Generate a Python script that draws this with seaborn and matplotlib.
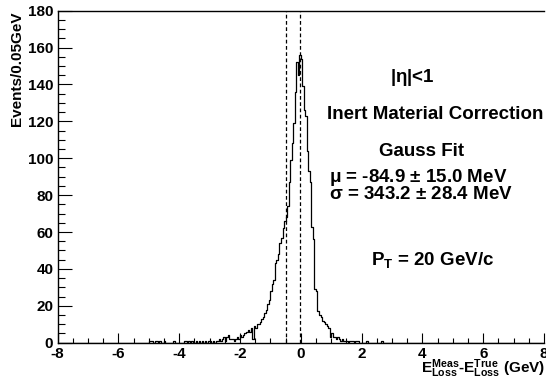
import numpy as np
import pandas as pd
import matplotlib
matplotlib.use("Agg")
import matplotlib.pyplot as plt
import seaborn as sns
from matplotlib.ticker import MultipleLocator

# ---------------- data ----------------
bin_width = 0.05
x_min, x_max = -8.0, 8.0

# dense part of the histogram: consecutive bins starting at core_start
core_start = -3.00
core_counts = [
    1, 0, 1, 0, 1, 1, 2, 1, 2, 3,          # -3.00 .. -2.55
    1, 3, 4, 2, 2, 2, 1, 2, 3, 2,          # -2.50 .. -2.05
    4, 3, 4, 5, 6, 7, 6, 8, 2, 9,          # -2.00 .. -1.55
    8, 10, 10, 11, 13, 14, 16, 18, 21, 23,  # -1.50 .. -1.05
    28, 32, 34, 43, 45, 48, 54, 57, 62, 66,  # -1.00 .. -0.55
    68, 74, 87, 99, 108, 119, 136, 152, 145, 156,  # -0.50 .. -0.05
    154, 139, 126, 123, 104, 93, 87, 63, 56, 29,   # 0.00 .. 0.45
    28, 17, 15, 14, 12, 11, 10, 9, 8, 3,    # 0.50 .. 0.95
    5, 3, 3, 2, 3, 2, 1, 2, 1, 1,           # 1.00 .. 1.45
    1, 0, 1, 1, 1, 0, 1, 1,                 # 1.50 .. 1.85
]

# isolated tail bins (bin lower edge, count)
tail_starts = [-5.00, -4.95, -4.90, -4.80, -4.75, -4.65, -4.50, -4.20,
               -3.85, -3.80, -3.70, -3.60, -3.45, -3.35, -3.25, -3.15,
               -3.05, 2.15, 2.65]
tail_counts = [1, 1, 1, 1, 1, 1, 1, 1,
               1, 1, 1, 1, 1, 1, 1, 1,
               1, 1, 1]

dashed_positions = [-0.49, -0.035]

x_ticks_major = [-8, -6, -4, -2, 0, 2, 4, 6, 8]
y_ticks_major = [0, 20, 40, 60, 80, 100, 120, 140, 160, 180]

# ---------------- build table ----------------
n_bins = int(round((x_max - x_min) / bin_width))
edges = np.linspace(x_min, x_max, n_bins + 1)
counts = np.zeros(n_bins)
i0 = int(round((core_start - x_min) / bin_width))
counts[i0:i0 + len(core_counts)] = core_counts
for s, c in zip(tail_starts, tail_counts):
    counts[int(round((s - x_min) / bin_width))] = c
centers = edges[:-1] + bin_width / 2
df = pd.DataFrame({"x": centers, "n": counts})

# ---------------- style ----------------
sns.set_theme(style="ticks")
plt.rcParams["font.family"] = ["Liberation Sans", "DejaVu Sans"]
plt.rcParams["font.weight"] = "bold"
plt.rcParams["text.color"] = "black"
plt.rcParams["axes.labelcolor"] = "black"
plt.rcParams["xtick.color"] = "black"
plt.rcParams["ytick.color"] = "black"
plt.rcParams["axes.unicode_minus"] = False
plt.rcParams["mathtext.fontset"] = "custom"
plt.rcParams["mathtext.rm"] = "Liberation Sans"
plt.rcParams["mathtext.bf"] = "Liberation Sans:bold"
plt.rcParams["mathtext.it"] = "Liberation Sans:italic"
plt.rcParams["mathtext.sf"] = "Liberation Sans"

W, H = 546, 380
fig = plt.figure(figsize=(W / 100, H / 100), dpi=100)
fig.patch.set_facecolor("white")
ax = fig.add_axes([57.5 / W, 1 - 342.7 / H, (544 - 57.5) / W, (342.7 - 10.7) / H])
ax.set_facecolor("white")

sns.histplot(data=df, x="x", weights="n", binwidth=bin_width,
             binrange=(x_min, x_max), element="step",
             fill=False, color="black", linewidth=0.9, ax=ax)

for xp in dashed_positions:
    ax.axvline(xp, color="black", linestyle=(0, (3, 2)), linewidth=0.9)

ax.set_xlim(x_min, x_max)
ax.set_ylim(0, 180)
ax.set_xticks(x_ticks_major)
ax.set_yticks(y_ticks_major)
ax.xaxis.set_minor_locator(MultipleLocator(0.5))
ax.yaxis.set_minor_locator(MultipleLocator(5))
ax.tick_params(axis="y", which="major", direction="in", length=10, width=0.8,
               labelsize=11, pad=3, colors="black")
ax.tick_params(axis="y", which="minor", direction="in", length=5, width=0.8)
ax.tick_params(axis="x", which="major", direction="in", length=7, width=0.8,
               labelsize=11, pad=3, colors="black")
ax.tick_params(axis="x", which="minor", direction="in", length=3.5, width=0.8)
for lab in ax.get_xticklabels() + ax.get_yticklabels():
    lab.set_fontweight("bold")

for side in ["top", "left", "bottom"]:
    ax.spines[side].set_visible(True)
    ax.spines[side].set_color("black")
    ax.spines[side].set_linewidth(1.0)
ax.spines["right"].set_visible(False)
ax.set_xlabel("")
ax.set_ylabel("")

# axis titles
fig.text(17 / W, 1 - 12 / H, "Events/0.05GeV", rotation=90, ha="center",
         va="top", fontsize=11, fontweight="bold")
fig.text(545 / W, 1 - 373 / H,
         r"E$^{\mathbf{Meas}}_{\mathbf{Loss}}$-E$^{\mathbf{True}}_{\mathbf{Loss}}$ (GeV)",
         ha="right", va="baseline", fontsize=11, fontweight="bold")

# annotations
fs = 13.5
ax.text(3.68, 143.6, r"|$\mathrm{\eta}$|<1", ha="center", va="center",
        fontsize=fs, fontweight="bold")
ax.text(4.42, 123.5, "Inert Material Correction", ha="center", va="center",
        fontsize=fs, fontweight="bold")
ax.text(3.98, 103.5, "Gauss Fit", ha="center", va="center",
        fontsize=fs, fontweight="bold")
ax.text(0.93, 89.4, r"$\mathrm{\mu}$ = -84.9 $\mathrm{\pm}$ 15.0 MeV",
        ha="left", va="center", fontsize=fs, fontweight="bold")
ax.text(0.93, 80.1, r"$\mathrm{\sigma}$ = 343.2 $\mathrm{\pm}$ 28.4 MeV",
        ha="left", va="center", fontsize=fs, fontweight="bold")
ax.text(4.34, 44.9, r"P$_{\mathbf{T}}$ = 20 GeV/c", ha="center", va="center",
        fontsize=fs, fontweight="bold")

fig.savefig("out.png", dpi=100, facecolor="white")
